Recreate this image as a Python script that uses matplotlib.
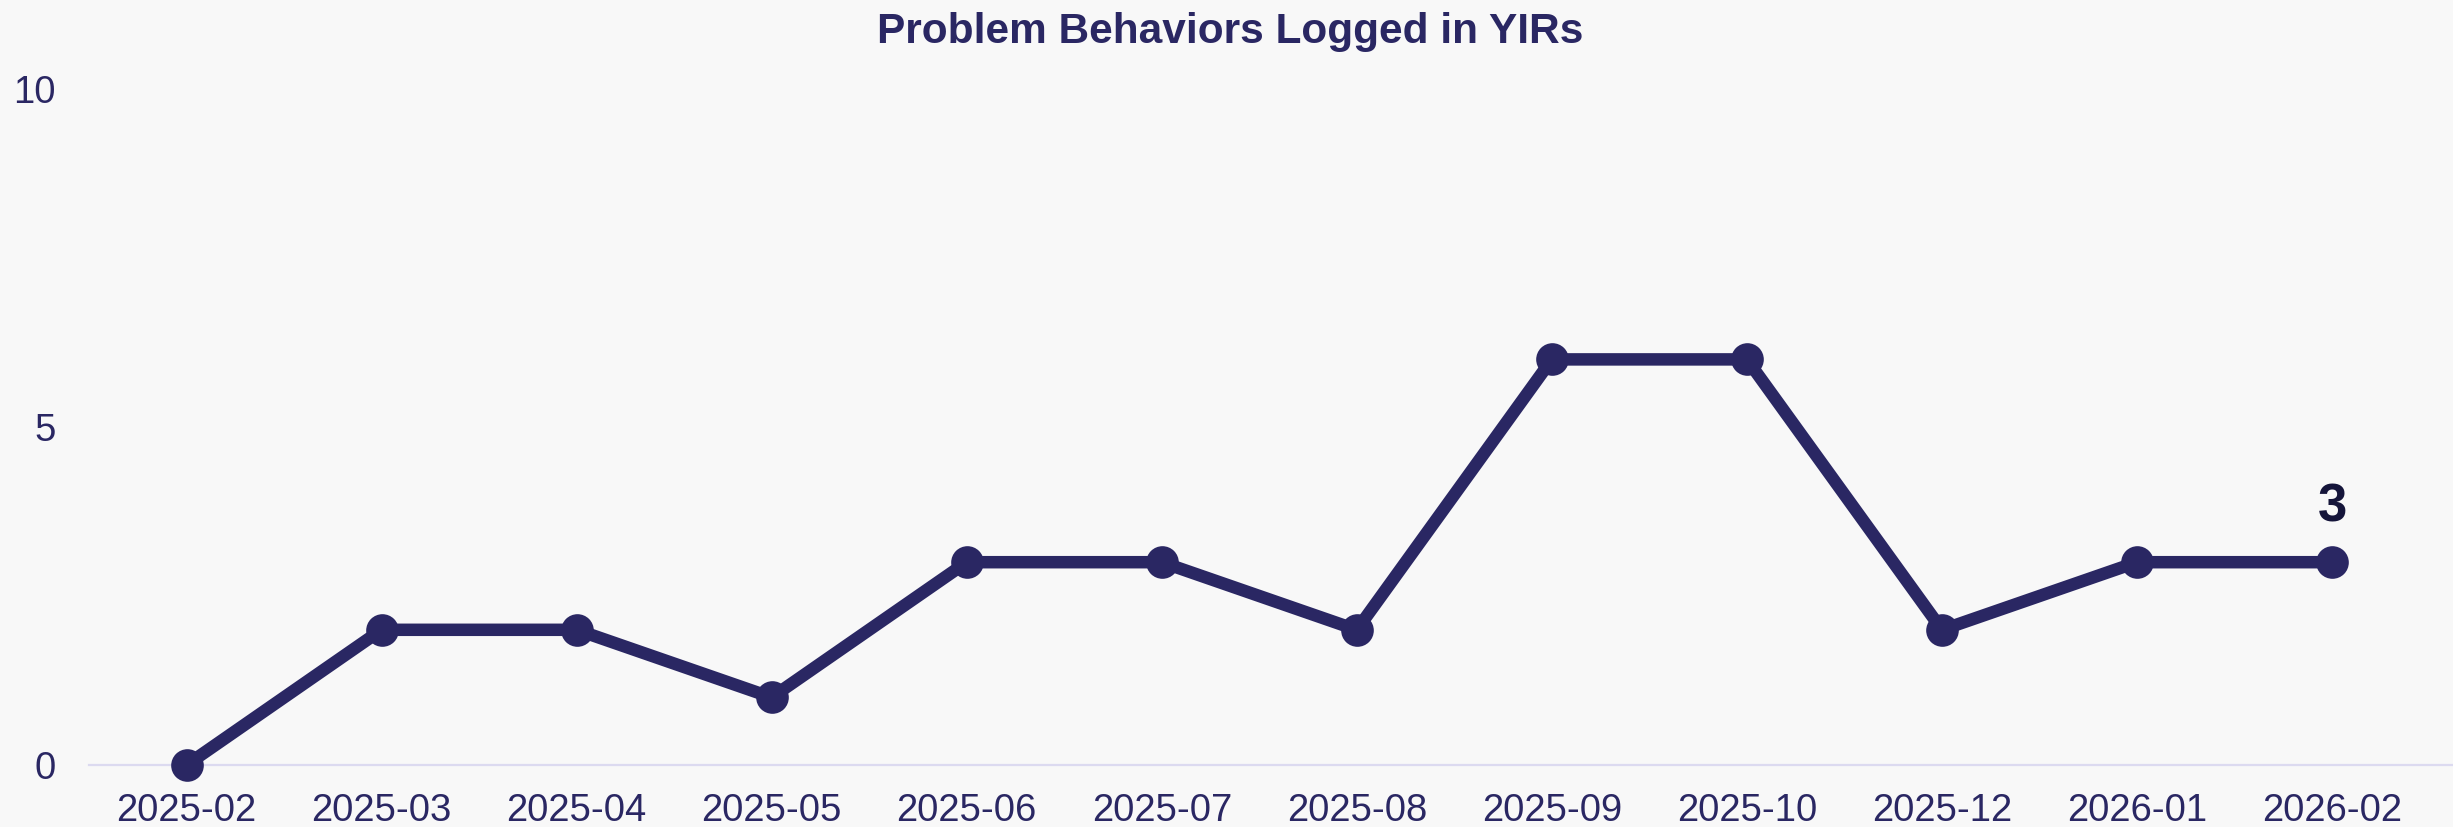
import matplotlib
matplotlib.use("Agg")
import matplotlib.pyplot as plt

# monthly counts of problem behaviors logged
months = ["2025-02", "2025-03", "2025-04", "2025-05", "2025-06", "2025-07",
          "2025-08", "2025-09", "2025-10", "2025-12", "2026-01", "2026-02"]
counts = [0, 2, 2, 1, 3, 3, 2, 6, 6, 2, 3, 3]
y_ticks = [0, 5, 10]

navy = "#2a2763"
bg = "#f8f8f8"

plt.rcParams["font.family"] = ["Liberation Sans", "DejaVu Sans"]

fig = plt.figure(figsize=(24.53, 8.27), dpi=100, facecolor=bg)
ax = fig.add_axes([89 / 2453, (827 - 765) / 827, 1 - 89 / 2453, (765 - 89) / 827])
ax.set_facecolor(bg)

x = list(range(len(months)))
ax.plot(x, counts, color=navy, lw=9, marker="o", markersize=23.5,
        markeredgewidth=0, solid_capstyle="round", clip_on=False, zorder=3)

# value label on the last point
ax.annotate(str(counts[-1]), (x[-1], counts[-1]), xytext=(0, 29),
            textcoords="offset points", ha="center", va="baseline",
            fontsize=38, fontweight="bold", color="#15153a")

ax.set_xlim(-0.5, 11.62)
ax.set_ylim(0, 10)
ax.set_xticks(x)
ax.set_xticklabels(months)
ax.set_yticks(y_ticks)
ax.tick_params(axis="both", length=0, labelsize=27.5, colors=navy)
ax.tick_params(axis="x", pad=20)
ax.tick_params(axis="y", pad=24)

for side in ["top", "right", "left"]:
    ax.spines[side].set_visible(False)
ax.spines["bottom"].set_color("#dcdaf0")
ax.spines["bottom"].set_linewidth(1.6)

fig.text(1230 / 2453, 1 - 43 / 827, "Problem Behaviors Logged in YIRs",
         ha="center", va="baseline", fontsize=30.5, fontweight="bold", color=navy)

fig.savefig("out.png", dpi=100, facecolor=bg)
